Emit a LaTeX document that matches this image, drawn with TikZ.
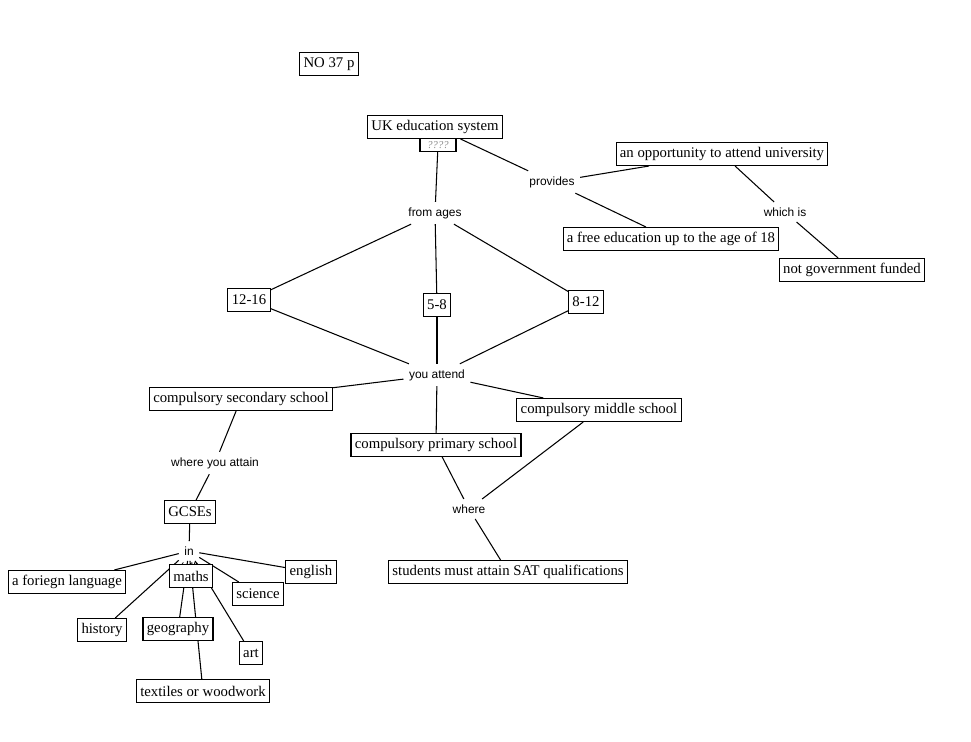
\documentclass[tikz,border=0pt]{standalone}
\usepackage{fontspec}
\setmainfont{Liberation Serif}
\setsansfont{Liberation Sans}
\usetikzlibrary{backgrounds}
\definecolor{mapGray}{HTML}{8C8C8C}
\tikzset{
  concept/.style={draw=black,fill=white,line width=0.6pt,inner xsep=2.2pt,
    inner ysep=0pt,minimum height=0.46cm,font=\fontsize{8.4}{10}\selectfont},
  hidden/.style={draw=black,fill=white,line width=0.6pt,inner sep=0.5pt,
    minimum width=0.72cm,minimum height=0.26cm,text=mapGray,
    font=\itshape\fontsize{6}{7}\selectfont},
  linking/.style={inner sep=3pt,font=\sffamily\fontsize{6.8}{8}\selectfont},
  link/.style={line width=0.6pt,draw=black}
}

\begin{document}
\begin{tikzpicture}[x=0.02cm,y=-0.02cm]
  \useasboundingbox (0,0) rectangle (971,742);

  % concepts
  \node[concept] (no) at (329,64) {NO 37 p};
  \node[concept] (uk) at (435,127) {UK education system};
  \node[hidden] (q) at (438,145) {????};
  \node[concept] (uni) at (722,154) {an opportunity to attend university};
  \node[concept] (free) at (671,239) {a free education up to the age of 18};
  \node[concept] (notgov) at (852,270) {not government funded};
  \node[concept] (a1216) at (249,300) {12-16};
  \node[concept] (a58) at (437,305) {5-8};
  \node[concept] (a812) at (586,302) {8-12};
  \node[concept] (secondary) at (241,399) {compulsory secondary school};
  \node[concept] (middle) at (599,410) {compulsory middle school};
  \node[concept] (primary) at (436,445) {compulsory primary school};
  \node[concept] (gcse) at (190,512) {GCSEs};
  \node[concept] (sat) at (508,572) {students must attain SAT qualifications};
  \node[concept] (foreign) at (67,582) {a foriegn language};
  \node[concept] (english) at (311,572) {english};
  \node[concept] (science) at (258,594) {science};
  \node[concept] (history) at (102,630) {history};
  \node[concept] (geo) at (178,629) {geography};
  \node[concept] (art) at (251,653) {art};
  \node[concept] (textiles) at (203,691) {textiles or woodwork};

  % linking phrases
  \node[linking] (provides) at (552,182) {provides};
  \node[linking] (whichis) at (785,212) {which is};
  \node[linking] (ages) at (435,213) {from ages};
  \node[linking] (attend) at (437,375) {you attend};
  \node[linking] (attain) at (215,463) {where you attain};
  \node[linking] (where) at (469,509) {where};
  \node[linking] (in) at (189,551) {in};
  \node[linking] (all) at (190,568) {(all)};
  \node[concept] (maths) at (191,576) {maths};

  \begin{scope}[on background layer]
    \draw[link] (uk) -- (provides);
    \draw[link] (provides) -- (uni);
    \draw[link] (provides) -- (free);
    \draw[link] (uni) -- (whichis);
    \draw[link] (whichis) -- (notgov);
    \draw[link] (q) -- (ages);
    \foreach \a in {a1216,a58,a812} {
      \draw[link] (ages) -- (\a);
      \draw[link] (\a) -- (attend);
    }
    \foreach \s in {secondary,primary,middle}
      \draw[link] (attend) -- (\s);
    \draw[link] (secondary) -- (attain);
    \draw[link] (attain) -- (gcse);
    \draw[link] (primary) -- (where);
    \draw[link] (middle) -- (where);
    \draw[link] (where) -- (sat);
    \draw[link] (gcse) -- (in);
    \foreach \s in {foreign,english,science,history,geo,art,textiles}
      \draw[link] (in) -- (\s);
  \end{scope}
\end{tikzpicture}
\end{document}
